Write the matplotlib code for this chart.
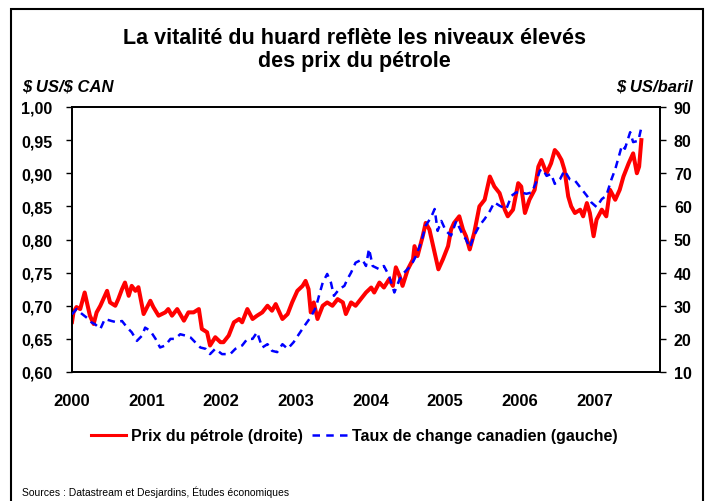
import matplotlib.pyplot as plt
from matplotlib.patches import Rectangle
from matplotlib.lines import Line2D

plt.rcParams['font.family'] = ['Liberation Sans', 'DejaVu Sans']

# Oil price (US$/barrel, right axis), dates as decimal years
oil_t = [2000.00, 2000.02, 2000.06, 2000.11, 2000.17, 2000.20, 2000.24, 2000.29, 2000.33,
         2000.38, 2000.47, 2000.51, 2000.58, 2000.62, 2000.67, 2000.71, 2000.76, 2000.80,
         2000.85, 2000.89, 2000.96, 2001.05, 2001.09, 2001.16, 2001.25, 2001.29, 2001.34,
         2001.41, 2001.50, 2001.56, 2001.63, 2001.70, 2001.74, 2001.81, 2001.85, 2001.92,
         2001.99, 2002.03, 2002.10, 2002.17, 2002.24, 2002.28, 2002.35, 2002.42, 2002.48,
         2002.55, 2002.62, 2002.68, 2002.73, 2002.82, 2002.89, 2002.95, 2003.02, 2003.09,
         2003.13, 2003.17, 2003.20, 2003.24, 2003.29, 2003.36, 2003.42, 2003.49, 2003.56,
         2003.63, 2003.67, 2003.74, 2003.80, 2003.87, 2003.94, 2004.01, 2004.05, 2004.12,
         2004.18, 2004.25, 2004.30, 2004.34, 2004.39, 2004.43, 2004.50, 2004.57, 2004.59,
         2004.63, 2004.70, 2004.74, 2004.79, 2004.83, 2004.88, 2004.91, 2004.97, 2005.04,
         2005.08, 2005.12, 2005.19, 2005.24, 2005.28, 2005.33, 2005.39, 2005.46, 2005.53,
         2005.60, 2005.66, 2005.73, 2005.80, 2005.84, 2005.91, 2005.98, 2006.02, 2006.07,
         2006.13, 2006.20, 2006.25, 2006.29, 2006.36, 2006.42, 2006.47, 2006.51, 2006.56,
         2006.60, 2006.65, 2006.69, 2006.74, 2006.81, 2006.85, 2006.90, 2006.94, 2006.99,
         2007.03, 2007.10, 2007.16, 2007.21, 2007.28, 2007.34, 2007.39, 2007.46, 2007.52,
         2007.57, 2007.60, 2007.63]
oil = [25.1, 28, 29.6, 29, 34, 31, 27, 24.5, 28,
       30, 34.5, 31, 30, 32, 35, 37, 33, 36,
       34.5, 35.6, 27.5, 31.5, 29.6, 27, 28, 29, 27,
       29, 25.5, 28, 28, 29, 23, 22, 18, 20.5,
       19, 19, 21, 25, 26, 25, 29, 26, 27,
       28, 30, 28.5, 30.5, 26, 27.5, 31, 34.5, 36,
       37.5, 35, 28, 31, 26, 30, 31, 30, 32,
       31, 27.5, 31, 30, 32, 34, 35.5, 34, 37,
       35.5, 38, 36, 41.6, 39, 36, 41, 44, 48,
       45, 51, 55, 53, 49, 44, 41, 44, 48,
       53, 55, 57, 53, 51, 47, 52, 60, 62,
       69, 66, 64, 59, 57, 59, 67, 66, 58,
       62, 65, 72, 74, 70, 73, 77, 76, 74,
       71, 63, 60, 58, 59, 57, 61, 58, 51,
       56, 59, 57, 65, 62, 65, 69, 73, 76,
       70, 72, 80]

# Canadian dollar (US$/CAN$, left axis)
cad_t = [2000.00, 2000.06, 2000.13, 2000.22, 2000.26, 2000.31, 2000.38, 2000.44, 2000.53,
         2000.60, 2000.67, 2000.74, 2000.80, 2000.87, 2000.94, 2000.98, 2001.05, 2001.12,
         2001.18, 2001.25, 2001.32, 2001.38, 2001.45, 2001.52, 2001.59, 2001.65, 2001.72,
         2001.79, 2001.85, 2001.92, 2002.01, 2002.12, 2002.19, 2002.28, 2002.35, 2002.42,
         2002.48, 2002.55, 2002.62, 2002.68, 2002.75, 2002.82, 2002.89, 2002.97, 2003.04,
         2003.13, 2003.20, 2003.27, 2003.31, 2003.36, 2003.42, 2003.47, 2003.51, 2003.58,
         2003.65, 2003.69, 2003.74, 2003.80, 2003.89, 2003.94, 2003.98, 2004.03, 2004.12,
         2004.18, 2004.25, 2004.32, 2004.39, 2004.45, 2004.54, 2004.61, 2004.68, 2004.74,
         2004.81, 2004.86, 2004.90, 2004.95, 2005.01, 2005.08, 2005.15, 2005.22, 2005.28,
         2005.33, 2005.39, 2005.46, 2005.53, 2005.60, 2005.66, 2005.73, 2005.82, 2005.89,
         2005.95, 2006.02, 2006.09, 2006.16, 2006.22, 2006.27, 2006.31, 2006.36, 2006.42,
         2006.47, 2006.54, 2006.60, 2006.67, 2006.74, 2006.83, 2006.90, 2006.96, 2007.03,
         2007.10, 2007.16, 2007.23, 2007.28, 2007.32, 2007.37, 2007.41, 2007.48, 2007.52,
         2007.59, 2007.63]
cad = [0.687, 0.695, 0.688, 0.680, 0.675, 0.672, 0.665, 0.680, 0.677,
       0.675, 0.677, 0.667, 0.660, 0.647, 0.655, 0.667, 0.662, 0.650,
       0.637, 0.640, 0.650, 0.650, 0.657, 0.655, 0.652, 0.645, 0.637,
       0.635, 0.627, 0.635, 0.627, 0.627, 0.635, 0.640, 0.650, 0.650,
       0.660, 0.637, 0.642, 0.632, 0.630, 0.642, 0.635, 0.645, 0.657,
       0.672, 0.683, 0.698, 0.715, 0.735, 0.748, 0.735, 0.715, 0.725,
       0.730, 0.740, 0.750, 0.765, 0.770, 0.760, 0.786, 0.760, 0.755,
       0.760, 0.745, 0.720, 0.740, 0.750, 0.760, 0.775, 0.796, 0.821,
       0.833, 0.846, 0.813, 0.828, 0.813, 0.806, 0.828, 0.811, 0.800,
       0.788, 0.806, 0.821, 0.831, 0.843, 0.856, 0.851, 0.846, 0.866,
       0.871, 0.871, 0.869, 0.871, 0.886, 0.904, 0.906, 0.896, 0.899,
       0.884, 0.891, 0.904, 0.891, 0.889, 0.876, 0.866, 0.856, 0.849,
       0.861, 0.866, 0.891, 0.906, 0.922, 0.942, 0.937, 0.962, 0.947,
       0.949, 0.969]

years = list(range(2000, 2008))
left_ticks = [0.60, 0.65, 0.70, 0.75, 0.80, 0.85, 0.90, 0.95, 1.00]
right_ticks = [10, 20, 30, 40, 50, 60, 70, 80, 90]

fig = plt.figure(figsize=(7.09, 5.02), dpi=100)
fig.patches.append(Rectangle((11 / 709, -0.02), 692 / 709, 1 - 10 / 502 + 0.02,
                             transform=fig.transFigure, fill=False, lw=1.5, ec='black'))

ax = fig.add_axes([72 / 709, 1 - 373 / 502, 588 / 709, 265 / 502])
ax2 = ax.twinx()

ax.plot(cad_t, cad, color='#0000ff', lw=1.8, dashes=(3, 2.2), zorder=3)
ax2.plot(oil_t, oil, color='#ff0000', lw=2.9, zorder=2)
ax.set_zorder(ax2.get_zorder() + 1)
ax.patch.set_visible(False)

ax.set_xlim(2000, 2007.88)
ax.set_ylim(0.60, 1.00)
ax2.set_ylim(10, 90)
ax.set_xticks(years)
ax.set_xticklabels([str(y) for y in years])
ax.set_yticks(left_ticks)
ax.set_yticklabels([f'{v:.2f}'.replace('.', ',') for v in left_ticks])
ax2.set_yticks(right_ticks)

ax.tick_params(axis='x', length=0, pad=15, labelsize=12)
ax.tick_params(axis='y', length=4, width=1, pad=10, labelsize=11.5)
ax2.tick_params(axis='y', length=4, width=1, pad=6, labelsize=11.5)
for lab in ax.get_xticklabels() + ax.get_yticklabels() + ax2.get_yticklabels():
    lab.set_fontweight('bold')
for a in (ax, ax2):
    for s in a.spines.values():
        s.set_linewidth(1.3)

fig.text(0.5, 1 - 50 / 502, 'La vitalité du huard reflète les niveaux élevés\ndes prix du pétrole',
         ha='center', va='center', fontsize=15.5, fontweight='bold', linespacing=1.15)
fig.text(22 / 709, 1 - 87 / 502, r'\$ US/\$ CAN', ha='left', va='center',
         fontsize=12, fontweight='bold', fontstyle='italic')
fig.text(693 / 709, 1 - 87 / 502, r'\$ US/baril', ha='right', va='center',
         fontsize=12, fontweight='bold', fontstyle='italic')

handles = [Line2D([], [], color='#ff0000', lw=2.2),
           Line2D([], [], color='#0000ff', lw=1.8, dashes=(3, 2.5))]
fig.legend(handles, ['Prix du pétrole (droite)', 'Taux de change canadien (gauche)'],
           loc='center', bbox_to_anchor=(0.5, 1 - 437 / 502), ncol=2, frameon=False,
           prop={'weight': 'bold', 'size': 11.5}, handlelength=2.2, handletextpad=0.3,
           columnspacing=0.6)

fig.text(22 / 709, 1 - 492 / 502, 'Sources : Datastream et Desjardins, Études économiques',
         ha='left', va='center', fontsize=7.5)

fig.savefig('out.png', dpi=100)
